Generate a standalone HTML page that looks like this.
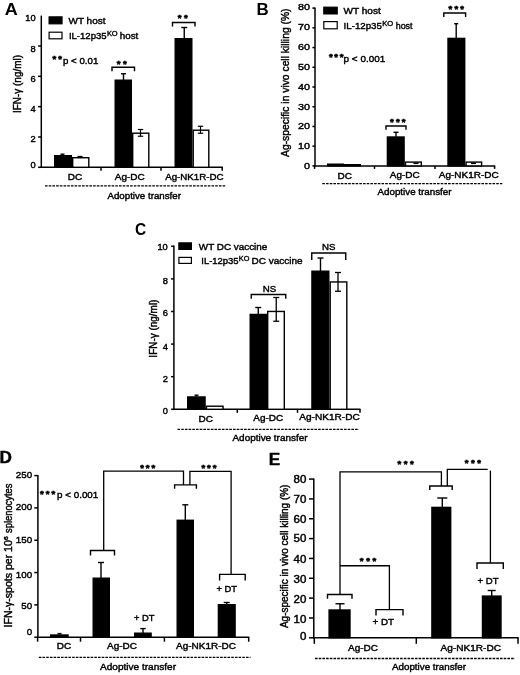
<!DOCTYPE html>
<html><head><meta charset="utf-8"><title>Figure</title>
<style>
html,body{margin:0;padding:0;background:#fff;}
svg{display:block;font-family:"Liberation Sans", sans-serif;filter:blur(0.4px);}
</style></head><body>
<svg width="520" height="675" viewBox="0 0 520 675">
<rect x="0" y="0" width="520" height="675" fill="#fff"/>
<text x="4.70" y="15.20" font-size="17.3" text-anchor="start" font-weight="bold" fill="#000" stroke="#000" stroke-width="0" textLength="12.99" lengthAdjust="spacingAndGlyphs">A</text>
<line x1="41.30" y1="15.60" x2="41.30" y2="168.00" stroke="#000" stroke-width="1.5" />
<line x1="38.10" y1="167.30" x2="41.30" y2="167.30" stroke="#000" stroke-width="1.5" />
<text x="35.60" y="168.10" font-size="9.3" text-anchor="end" font-weight="normal" fill="#000" stroke="#000" stroke-width="0.42" textLength="5.17" lengthAdjust="spacingAndGlyphs">0</text>
<line x1="38.10" y1="136.98" x2="41.30" y2="136.98" stroke="#000" stroke-width="1.5" />
<text x="35.60" y="142.40" font-size="9.3" text-anchor="end" font-weight="normal" fill="#000" stroke="#000" stroke-width="0.42" textLength="5.17" lengthAdjust="spacingAndGlyphs">2</text>
<line x1="38.10" y1="106.66" x2="41.30" y2="106.66" stroke="#000" stroke-width="1.5" />
<text x="35.60" y="112.30" font-size="9.3" text-anchor="end" font-weight="normal" fill="#000" stroke="#000" stroke-width="0.42" textLength="5.17" lengthAdjust="spacingAndGlyphs">4</text>
<line x1="38.10" y1="76.34" x2="41.30" y2="76.34" stroke="#000" stroke-width="1.5" />
<text x="35.60" y="82.00" font-size="9.3" text-anchor="end" font-weight="normal" fill="#000" stroke="#000" stroke-width="0.42" textLength="5.17" lengthAdjust="spacingAndGlyphs">6</text>
<line x1="38.10" y1="46.02" x2="41.30" y2="46.02" stroke="#000" stroke-width="1.5" />
<text x="35.60" y="51.90" font-size="9.3" text-anchor="end" font-weight="normal" fill="#000" stroke="#000" stroke-width="0.42" textLength="5.17" lengthAdjust="spacingAndGlyphs">8</text>
<text x="35.60" y="21.00" font-size="9.3" text-anchor="end" font-weight="normal" fill="#000" stroke="#000" stroke-width="0.42" textLength="10.34" lengthAdjust="spacingAndGlyphs">10</text>
<line x1="40.70" y1="167.30" x2="222.80" y2="167.30" stroke="#000" stroke-width="1.5" />
<line x1="101.00" y1="167.30" x2="101.00" y2="170.80" stroke="#000" stroke-width="1.5" />
<line x1="161.00" y1="167.30" x2="161.00" y2="170.80" stroke="#000" stroke-width="1.5" />
<line x1="222.20" y1="167.30" x2="222.20" y2="170.80" stroke="#000" stroke-width="1.5" />
<rect x="54.70" y="155.70" width="16.60" height="11.60" fill="#000" stroke="#000" stroke-width="1.4"/>
<rect x="72.70" y="157.70" width="16.10" height="9.60" fill="#fff" stroke="#000" stroke-width="1.4"/>
<rect x="115.20" y="80.20" width="16.10" height="87.10" fill="#000" stroke="#000" stroke-width="1.4"/>
<rect x="132.70" y="133.20" width="16.10" height="34.10" fill="#fff" stroke="#000" stroke-width="1.4"/>
<rect x="175.20" y="38.70" width="16.60" height="128.60" fill="#000" stroke="#000" stroke-width="1.4"/>
<rect x="193.20" y="130.20" width="15.60" height="37.10" fill="#fff" stroke="#000" stroke-width="1.4"/>
<line x1="62.50" y1="154.20" x2="62.50" y2="155.00" stroke="#000" stroke-width="1.4" />
<line x1="60.50" y1="154.20" x2="64.50" y2="154.20" stroke="#000" stroke-width="1.4" />
<line x1="80.00" y1="156.50" x2="80.00" y2="157.50" stroke="#000" stroke-width="1.3" />
<line x1="77.50" y1="156.50" x2="82.50" y2="156.50" stroke="#000" stroke-width="1.3" />
<line x1="77.50" y1="157.50" x2="82.50" y2="157.50" stroke="#000" stroke-width="1.3" />
<line x1="123.50" y1="73.75" x2="123.50" y2="80.00" stroke="#000" stroke-width="1.4" />
<line x1="121.00" y1="73.75" x2="126.00" y2="73.75" stroke="#000" stroke-width="1.4" />
<line x1="184.25" y1="27.50" x2="184.25" y2="38.00" stroke="#000" stroke-width="1.4" />
<line x1="181.25" y1="27.50" x2="187.25" y2="27.50" stroke="#000" stroke-width="1.4" />
<line x1="140.50" y1="129.50" x2="140.50" y2="136.25" stroke="#000" stroke-width="1.2" />
<line x1="137.80" y1="129.50" x2="143.20" y2="129.50" stroke="#000" stroke-width="1.2" />
<line x1="137.80" y1="136.25" x2="143.20" y2="136.25" stroke="#000" stroke-width="1.2" />
<line x1="200.50" y1="126.25" x2="200.50" y2="133.25" stroke="#000" stroke-width="1.2" />
<line x1="197.80" y1="126.25" x2="203.20" y2="126.25" stroke="#000" stroke-width="1.2" />
<line x1="197.80" y1="133.25" x2="203.20" y2="133.25" stroke="#000" stroke-width="1.2" />
<path d="M112.00 71.20 V67.30 H134.50 V71.20" fill="none" stroke="#000" stroke-width="1.4"/>
<text x="116.65 123.05" y="66.88" font-size="9.5" font-weight="bold" fill="#000" stroke="#000" stroke-width="0.6">**</text>
<path d="M172.50 26.50 V22.50 H195.00 V26.50" fill="none" stroke="#000" stroke-width="1.4"/>
<text x="177.65 184.05" y="21.48" font-size="9.5" font-weight="bold" fill="#000" stroke="#000" stroke-width="0.6">**</text>
<rect x="49.00" y="16.80" width="13.10" height="7.10" fill="#000" stroke="#000" stroke-width="1.0"/>
<text x="68.50" y="24.10" font-size="9.6" text-anchor="start" font-weight="normal" fill="#000" stroke="#000" stroke-width="0.42" textLength="37.00" lengthAdjust="spacingAndGlyphs">WT host</text>
<rect x="49.10" y="32.20" width="12.90" height="6.60" fill="#fff" stroke="#000" stroke-width="1.2"/>
<text x="68.90" y="39.30" font-size="9.6" text-anchor="start" font-weight="normal" fill="#000" stroke="#000" stroke-width="0.42" textLength="37.70" lengthAdjust="spacingAndGlyphs">IL-12p35</text>
<text x="106.90" y="36.30" font-size="6.7" text-anchor="start" font-weight="normal" fill="#000" stroke="#000" stroke-width="0.35" textLength="10.80" lengthAdjust="spacingAndGlyphs">KO</text>
<text x="119.80" y="39.30" font-size="9.6" text-anchor="start" font-weight="normal" fill="#000" stroke="#000" stroke-width="0.42" textLength="18.50" lengthAdjust="spacingAndGlyphs">host</text>
<text x="52.55 58.25" y="62.28" font-size="9.5" font-weight="bold" fill="#000" stroke="#000" stroke-width="0.6">**</text>
<text x="63.00" y="63.50" font-size="9.6" text-anchor="start" font-weight="normal" fill="#000" stroke="#000" stroke-width="0.42" textLength="35.30" lengthAdjust="spacingAndGlyphs">p &lt; 0.01</text>
<text x="21.10" y="84.00" font-size="10.0" text-anchor="middle" font-weight="normal" fill="#000" stroke="#000" stroke-width="0.42" textLength="58.05" lengthAdjust="spacingAndGlyphs" transform="rotate(-90 21.10 84.00)">IFN-γ (ng/ml)</text>
<text x="75.00" y="180.30" font-size="9.6" text-anchor="middle" font-weight="normal" fill="#000" stroke="#000" stroke-width="0.42" textLength="14.42" lengthAdjust="spacingAndGlyphs">DC</text>
<text x="129.80" y="180.30" font-size="9.6" text-anchor="middle" font-weight="normal" fill="#000" stroke="#000" stroke-width="0.42" textLength="29.96" lengthAdjust="spacingAndGlyphs">Ag-DC</text>
<text x="194.40" y="180.30" font-size="9.6" text-anchor="middle" font-weight="normal" fill="#000" stroke="#000" stroke-width="0.42" textLength="58.50" lengthAdjust="spacingAndGlyphs">Ag-NK1R-DC</text>
<line x1="45.00" y1="185.80" x2="226.00" y2="185.80" stroke="#000" stroke-width="1.3" stroke-dasharray="2.6 1.1"/>
<text x="144.20" y="198.50" font-size="9.6" text-anchor="middle" font-weight="normal" fill="#000" stroke="#000" stroke-width="0.42" textLength="73.50" lengthAdjust="spacingAndGlyphs">Adoptive transfer</text>
<text x="256.50" y="15.10" font-size="16.3" text-anchor="start" font-weight="bold" fill="#000" stroke="#000" stroke-width="0" textLength="12.24" lengthAdjust="spacingAndGlyphs">B</text>
<line x1="315.00" y1="7.40" x2="315.00" y2="166.60" stroke="#000" stroke-width="1.5" />
<line x1="312.40" y1="165.90" x2="315.00" y2="165.90" stroke="#000" stroke-width="1.5" />
<text x="310.00" y="168.50" font-size="9.3" text-anchor="end" font-weight="normal" fill="#000" stroke="#000" stroke-width="0.42" textLength="6.00" lengthAdjust="spacingAndGlyphs">0</text>
<line x1="312.40" y1="146.18" x2="315.00" y2="146.18" stroke="#000" stroke-width="1.5" />
<text x="310.00" y="149.20" font-size="9.3" text-anchor="end" font-weight="normal" fill="#000" stroke="#000" stroke-width="0.42" textLength="12.00" lengthAdjust="spacingAndGlyphs">10</text>
<line x1="312.40" y1="126.45" x2="315.00" y2="126.45" stroke="#000" stroke-width="1.5" />
<text x="310.00" y="129.30" font-size="9.3" text-anchor="end" font-weight="normal" fill="#000" stroke="#000" stroke-width="0.42" textLength="12.00" lengthAdjust="spacingAndGlyphs">20</text>
<line x1="312.40" y1="106.73" x2="315.00" y2="106.73" stroke="#000" stroke-width="1.5" />
<text x="310.00" y="109.60" font-size="9.3" text-anchor="end" font-weight="normal" fill="#000" stroke="#000" stroke-width="0.42" textLength="12.00" lengthAdjust="spacingAndGlyphs">30</text>
<line x1="312.40" y1="87.00" x2="315.00" y2="87.00" stroke="#000" stroke-width="1.5" />
<text x="310.00" y="89.60" font-size="9.3" text-anchor="end" font-weight="normal" fill="#000" stroke="#000" stroke-width="0.42" textLength="12.00" lengthAdjust="spacingAndGlyphs">40</text>
<line x1="312.40" y1="67.28" x2="315.00" y2="67.28" stroke="#000" stroke-width="1.5" />
<text x="310.00" y="69.80" font-size="9.3" text-anchor="end" font-weight="normal" fill="#000" stroke="#000" stroke-width="0.42" textLength="12.00" lengthAdjust="spacingAndGlyphs">50</text>
<line x1="312.40" y1="47.55" x2="315.00" y2="47.55" stroke="#000" stroke-width="1.5" />
<text x="310.00" y="49.60" font-size="9.3" text-anchor="end" font-weight="normal" fill="#000" stroke="#000" stroke-width="0.42" textLength="12.00" lengthAdjust="spacingAndGlyphs">60</text>
<line x1="312.40" y1="27.83" x2="315.00" y2="27.83" stroke="#000" stroke-width="1.5" />
<text x="310.00" y="30.40" font-size="9.3" text-anchor="end" font-weight="normal" fill="#000" stroke="#000" stroke-width="0.42" textLength="12.00" lengthAdjust="spacingAndGlyphs">70</text>
<line x1="312.40" y1="8.10" x2="315.00" y2="8.10" stroke="#000" stroke-width="1.5" />
<text x="310.00" y="10.20" font-size="9.3" text-anchor="end" font-weight="normal" fill="#000" stroke="#000" stroke-width="0.42" textLength="12.00" lengthAdjust="spacingAndGlyphs">80</text>
<line x1="314.40" y1="165.90" x2="495.20" y2="165.90" stroke="#000" stroke-width="1.5" />
<line x1="314.60" y1="165.90" x2="314.60" y2="168.90" stroke="#000" stroke-width="1.5" />
<line x1="374.50" y1="165.90" x2="374.50" y2="168.90" stroke="#000" stroke-width="1.5" />
<line x1="435.00" y1="165.90" x2="435.00" y2="168.90" stroke="#000" stroke-width="1.5" />
<line x1="494.60" y1="165.90" x2="494.60" y2="168.90" stroke="#000" stroke-width="1.5" />
<rect x="327.70" y="164.20" width="15.60" height="1.70" fill="#000" stroke="#000" stroke-width="1.4"/>
<rect x="344.70" y="164.70" width="15.60" height="1.20" fill="#fff" stroke="#000" stroke-width="1.4"/>
<rect x="387.40" y="137.00" width="16.70" height="28.90" fill="#000" stroke="#000" stroke-width="1.4"/>
<rect x="405.50" y="162.10" width="15.80" height="3.80" fill="#fff" stroke="#000" stroke-width="1.4"/>
<rect x="448.00" y="38.40" width="16.70" height="127.50" fill="#000" stroke="#000" stroke-width="1.4"/>
<rect x="466.10" y="162.10" width="15.50" height="3.80" fill="#fff" stroke="#000" stroke-width="1.4"/>
<line x1="396.00" y1="132.30" x2="396.00" y2="137.00" stroke="#000" stroke-width="1.4" />
<line x1="393.50" y1="132.30" x2="398.50" y2="132.30" stroke="#000" stroke-width="1.4" />
<line x1="456.20" y1="23.70" x2="456.20" y2="38.00" stroke="#000" stroke-width="1.4" />
<line x1="454.20" y1="23.70" x2="458.20" y2="23.70" stroke="#000" stroke-width="1.4" />
<line x1="413.50" y1="163.30" x2="418.50" y2="163.30" stroke="#000" stroke-width="1.6" />
<line x1="471.00" y1="163.30" x2="476.00" y2="163.30" stroke="#000" stroke-width="1.6" />
<path d="M386.00 129.80 V126.00 H406.00 V129.80" fill="none" stroke="#000" stroke-width="1.4"/>
<text x="390.05 395.95 401.85" y="124.68" font-size="9.5" font-weight="bold" fill="#000" stroke="#000" stroke-width="0.6">***</text>
<path d="M443.80 17.00 V13.00 H465.60 V17.00" fill="none" stroke="#000" stroke-width="1.4"/>
<text x="448.55 454.45 460.35" y="11.58" font-size="9.5" font-weight="bold" fill="#000" stroke="#000" stroke-width="0.6">***</text>
<rect x="323.70" y="7.10" width="13.60" height="6.90" fill="#000" stroke="#000" stroke-width="1.0"/>
<text x="343.50" y="14.40" font-size="9.6" text-anchor="start" font-weight="normal" fill="#000" stroke="#000" stroke-width="0.42" textLength="37.30" lengthAdjust="spacingAndGlyphs">WT host</text>
<rect x="323.80" y="21.60" width="13.40" height="7.20" fill="#fff" stroke="#000" stroke-width="1.2"/>
<text x="343.60" y="29.40" font-size="9.6" text-anchor="start" font-weight="normal" fill="#000" stroke="#000" stroke-width="0.42" textLength="38.30" lengthAdjust="spacingAndGlyphs">IL-12p35</text>
<text x="382.20" y="26.40" font-size="6.7" text-anchor="start" font-weight="normal" fill="#000" stroke="#000" stroke-width="0.35" textLength="11.00" lengthAdjust="spacingAndGlyphs">KO</text>
<text x="395.70" y="29.40" font-size="9.6" text-anchor="start" font-weight="normal" fill="#000" stroke="#000" stroke-width="0.42" textLength="16.80" lengthAdjust="spacingAndGlyphs">host</text>
<text x="328.95 334.35 339.75" y="60.48" font-size="9.5" font-weight="bold" fill="#000" stroke="#000" stroke-width="0.6">***</text>
<text x="343.60" y="61.60" font-size="9.6" text-anchor="start" font-weight="normal" fill="#000" stroke="#000" stroke-width="0.42" textLength="41.60" lengthAdjust="spacingAndGlyphs">p &lt; 0.001</text>
<text x="288.90" y="82.70" font-size="10.0" text-anchor="middle" font-weight="normal" fill="#000" stroke="#000" stroke-width="0.42" textLength="148.50" lengthAdjust="spacingAndGlyphs" transform="rotate(-90 288.90 82.70)">Ag-specific  in vivo cell killing (%)</text>
<text x="344.80" y="178.60" font-size="9.6" text-anchor="middle" font-weight="normal" fill="#000" stroke="#000" stroke-width="0.42" textLength="14.42" lengthAdjust="spacingAndGlyphs">DC</text>
<text x="404.80" y="178.30" font-size="9.6" text-anchor="middle" font-weight="normal" fill="#000" stroke="#000" stroke-width="0.42" textLength="29.96" lengthAdjust="spacingAndGlyphs">Ag-DC</text>
<text x="468.80" y="178.30" font-size="9.6" text-anchor="middle" font-weight="normal" fill="#000" stroke="#000" stroke-width="0.42" textLength="60.00" lengthAdjust="spacingAndGlyphs">Ag-NK1R-DC</text>
<line x1="322.30" y1="183.60" x2="502.30" y2="183.60" stroke="#000" stroke-width="1.3" stroke-dasharray="2.6 1.1"/>
<text x="414.50" y="195.20" font-size="9.6" text-anchor="middle" font-weight="normal" fill="#000" stroke="#000" stroke-width="0.42" textLength="74.00" lengthAdjust="spacingAndGlyphs">Adoptive transfer</text>
<text x="135.00" y="235.20" font-size="16.3" text-anchor="start" font-weight="bold" fill="#000" stroke="#000" stroke-width="0" textLength="11.18" lengthAdjust="spacingAndGlyphs">C</text>
<line x1="173.90" y1="245.60" x2="173.90" y2="410.00" stroke="#000" stroke-width="1.5" />
<line x1="171.10" y1="409.30" x2="173.90" y2="409.30" stroke="#000" stroke-width="1.5" />
<text x="167.80" y="413.70" font-size="9.3" text-anchor="end" font-weight="normal" fill="#000" stroke="#000" stroke-width="0.42" textLength="5.17" lengthAdjust="spacingAndGlyphs">0</text>
<line x1="171.10" y1="376.70" x2="173.90" y2="376.70" stroke="#000" stroke-width="1.5" />
<text x="167.80" y="382.00" font-size="9.3" text-anchor="end" font-weight="normal" fill="#000" stroke="#000" stroke-width="0.42" textLength="5.17" lengthAdjust="spacingAndGlyphs">2</text>
<line x1="171.10" y1="344.10" x2="173.90" y2="344.10" stroke="#000" stroke-width="1.5" />
<text x="167.80" y="349.60" font-size="9.3" text-anchor="end" font-weight="normal" fill="#000" stroke="#000" stroke-width="0.42" textLength="5.17" lengthAdjust="spacingAndGlyphs">4</text>
<line x1="171.10" y1="311.50" x2="173.90" y2="311.50" stroke="#000" stroke-width="1.5" />
<text x="167.80" y="316.20" font-size="9.3" text-anchor="end" font-weight="normal" fill="#000" stroke="#000" stroke-width="0.42" textLength="5.17" lengthAdjust="spacingAndGlyphs">6</text>
<line x1="171.10" y1="278.90" x2="173.90" y2="278.90" stroke="#000" stroke-width="1.5" />
<text x="167.80" y="283.60" font-size="9.3" text-anchor="end" font-weight="normal" fill="#000" stroke="#000" stroke-width="0.42" textLength="5.17" lengthAdjust="spacingAndGlyphs">8</text>
<line x1="171.10" y1="246.30" x2="173.90" y2="246.30" stroke="#000" stroke-width="1.5" />
<text x="167.80" y="250.30" font-size="9.3" text-anchor="end" font-weight="normal" fill="#000" stroke="#000" stroke-width="0.42" textLength="10.34" lengthAdjust="spacingAndGlyphs">10</text>
<line x1="173.30" y1="409.30" x2="360.50" y2="409.30" stroke="#000" stroke-width="1.5" />
<line x1="237.30" y1="409.30" x2="237.30" y2="412.80" stroke="#000" stroke-width="1.5" />
<line x1="297.50" y1="409.30" x2="297.50" y2="412.80" stroke="#000" stroke-width="1.5" />
<line x1="360.00" y1="409.30" x2="360.00" y2="412.80" stroke="#000" stroke-width="1.5" />
<rect x="187.70" y="396.95" width="17.35" height="12.35" fill="#000" stroke="#000" stroke-width="1.4"/>
<rect x="206.45" y="406.20" width="16.60" height="3.10" fill="#fff" stroke="#000" stroke-width="1.4"/>
<rect x="250.20" y="314.45" width="16.10" height="94.85" fill="#000" stroke="#000" stroke-width="1.4"/>
<rect x="267.70" y="311.45" width="16.60" height="97.85" fill="#fff" stroke="#000" stroke-width="1.4"/>
<rect x="311.95" y="271.20" width="16.85" height="138.10" fill="#000" stroke="#000" stroke-width="1.4"/>
<rect x="330.20" y="281.95" width="16.60" height="127.35" fill="#fff" stroke="#000" stroke-width="1.4"/>
<line x1="196.50" y1="395.20" x2="196.50" y2="396.50" stroke="#000" stroke-width="1.4" />
<line x1="194.50" y1="395.20" x2="198.50" y2="395.20" stroke="#000" stroke-width="1.4" />
<line x1="258.25" y1="307.50" x2="258.25" y2="314.00" stroke="#000" stroke-width="1.4" />
<line x1="255.25" y1="307.50" x2="261.25" y2="307.50" stroke="#000" stroke-width="1.4" />
<line x1="276.25" y1="297.50" x2="276.25" y2="321.25" stroke="#000" stroke-width="1.3" />
<line x1="273.25" y1="297.50" x2="279.25" y2="297.50" stroke="#000" stroke-width="1.3" />
<line x1="273.25" y1="321.25" x2="279.25" y2="321.25" stroke="#000" stroke-width="1.3" />
<line x1="320.50" y1="258.00" x2="320.50" y2="271.00" stroke="#000" stroke-width="1.4" />
<line x1="317.50" y1="258.00" x2="323.50" y2="258.00" stroke="#000" stroke-width="1.4" />
<line x1="338.00" y1="272.50" x2="338.00" y2="291.25" stroke="#000" stroke-width="1.3" />
<line x1="335.00" y1="272.50" x2="341.00" y2="272.50" stroke="#000" stroke-width="1.3" />
<line x1="335.00" y1="291.25" x2="341.00" y2="291.25" stroke="#000" stroke-width="1.3" />
<path d="M251.25 298.75 V294.50 H285.75 V298.75" fill="none" stroke="#000" stroke-width="1.4"/>
<text x="269.50" y="291.50" font-size="9.3" text-anchor="middle" font-weight="normal" fill="#000" stroke="#000" stroke-width="0.42" textLength="13.44" lengthAdjust="spacingAndGlyphs">NS</text>
<path d="M311.75 260.00 V253.00 H345.75 V260.00" fill="none" stroke="#000" stroke-width="1.4"/>
<text x="328.75" y="249.70" font-size="9.3" text-anchor="middle" font-weight="normal" fill="#000" stroke="#000" stroke-width="0.42" textLength="13.44" lengthAdjust="spacingAndGlyphs">NS</text>
<rect x="178.80" y="242.80" width="12.70" height="6.70" fill="#000" stroke="#000" stroke-width="1.0"/>
<text x="198.80" y="249.80" font-size="9.6" text-anchor="start" font-weight="normal" fill="#000" stroke="#000" stroke-width="0.42" textLength="68.50" lengthAdjust="spacingAndGlyphs">WT DC vaccine</text>
<rect x="178.90" y="257.40" width="12.50" height="6.00" fill="#fff" stroke="#000" stroke-width="1.2"/>
<text x="201.30" y="264.00" font-size="9.6" text-anchor="start" font-weight="normal" fill="#000" stroke="#000" stroke-width="0.42" textLength="37.20" lengthAdjust="spacingAndGlyphs">IL-12p35</text>
<text x="238.80" y="261.00" font-size="6.7" text-anchor="start" font-weight="normal" fill="#000" stroke="#000" stroke-width="0.35" textLength="10.60" lengthAdjust="spacingAndGlyphs">KO</text>
<text x="251.50" y="264.00" font-size="9.6" text-anchor="start" font-weight="normal" fill="#000" stroke="#000" stroke-width="0.42" textLength="51.00" lengthAdjust="spacingAndGlyphs">DC vaccine</text>
<text x="157.40" y="328.60" font-size="10.0" text-anchor="middle" font-weight="normal" fill="#000" stroke="#000" stroke-width="0.42" textLength="58.05" lengthAdjust="spacingAndGlyphs" transform="rotate(-90 157.40 328.60)">IFN-γ (ng/ml)</text>
<text x="205.80" y="422.10" font-size="9.6" text-anchor="middle" font-weight="normal" fill="#000" stroke="#000" stroke-width="0.42" textLength="14.42" lengthAdjust="spacingAndGlyphs">DC</text>
<text x="268.20" y="420.60" font-size="9.6" text-anchor="middle" font-weight="normal" fill="#000" stroke="#000" stroke-width="0.42" textLength="29.96" lengthAdjust="spacingAndGlyphs">Ag-DC</text>
<text x="329.50" y="420.20" font-size="9.6" text-anchor="middle" font-weight="normal" fill="#000" stroke="#000" stroke-width="0.42" textLength="60.50" lengthAdjust="spacingAndGlyphs">Ag-NK1R-DC</text>
<line x1="177.50" y1="429.30" x2="359.00" y2="429.30" stroke="#000" stroke-width="1.3" stroke-dasharray="2.6 1.1"/>
<text x="270.00" y="440.80" font-size="9.6" text-anchor="middle" font-weight="normal" fill="#000" stroke="#000" stroke-width="0.42" textLength="75.00" lengthAdjust="spacingAndGlyphs">Adoptive transfer</text>
<text x="-0.50" y="462.80" font-size="16.5" text-anchor="start" font-weight="bold" fill="#000" stroke="#000" stroke-width="0.42" textLength="12.39" lengthAdjust="spacingAndGlyphs">D</text>
<line x1="37.90" y1="474.90" x2="37.90" y2="637.90" stroke="#000" stroke-width="1.5" />
<line x1="34.30" y1="637.20" x2="37.90" y2="637.20" stroke="#000" stroke-width="1.5" />
<text x="32.20" y="634.57" font-size="9.5" text-anchor="end" font-weight="normal" fill="#000" stroke="#000" stroke-width="0.42" textLength="5.44" lengthAdjust="spacingAndGlyphs">0</text>
<line x1="34.30" y1="604.88" x2="37.90" y2="604.88" stroke="#000" stroke-width="1.5" />
<text x="32.20" y="609.07" font-size="9.5" text-anchor="end" font-weight="normal" fill="#000" stroke="#000" stroke-width="0.42" textLength="10.88" lengthAdjust="spacingAndGlyphs">50</text>
<line x1="34.30" y1="572.56" x2="37.90" y2="572.56" stroke="#000" stroke-width="1.5" />
<text x="32.20" y="577.87" font-size="9.5" text-anchor="end" font-weight="normal" fill="#000" stroke="#000" stroke-width="0.42" textLength="16.33" lengthAdjust="spacingAndGlyphs">100</text>
<line x1="34.30" y1="540.24" x2="37.90" y2="540.24" stroke="#000" stroke-width="1.5" />
<text x="32.20" y="543.37" font-size="9.5" text-anchor="end" font-weight="normal" fill="#000" stroke="#000" stroke-width="0.42" textLength="16.33" lengthAdjust="spacingAndGlyphs">150</text>
<line x1="34.30" y1="507.92" x2="37.90" y2="507.92" stroke="#000" stroke-width="1.5" />
<text x="32.20" y="510.27" font-size="9.5" text-anchor="end" font-weight="normal" fill="#000" stroke="#000" stroke-width="0.42" textLength="16.33" lengthAdjust="spacingAndGlyphs">200</text>
<line x1="34.30" y1="475.60" x2="37.90" y2="475.60" stroke="#000" stroke-width="1.5" />
<text x="32.20" y="477.57" font-size="9.5" text-anchor="end" font-weight="normal" fill="#000" stroke="#000" stroke-width="0.42" textLength="16.33" lengthAdjust="spacingAndGlyphs">250</text>
<line x1="37.30" y1="637.20" x2="249.30" y2="637.20" stroke="#000" stroke-width="1.5" />
<line x1="37.60" y1="637.20" x2="37.60" y2="641.70" stroke="#000" stroke-width="1.5" />
<line x1="80.50" y1="637.20" x2="80.50" y2="641.70" stroke="#000" stroke-width="1.5" />
<line x1="164.40" y1="637.20" x2="164.40" y2="641.70" stroke="#000" stroke-width="1.5" />
<line x1="248.70" y1="637.20" x2="248.70" y2="641.70" stroke="#000" stroke-width="1.5" />
<rect x="50.70" y="635.00" width="17.35" height="2.20" fill="#000" stroke="#000" stroke-width="1.4"/>
<rect x="93.20" y="578.20" width="16.10" height="59.00" fill="#000" stroke="#000" stroke-width="1.4"/>
<rect x="134.70" y="633.20" width="16.40" height="4.00" fill="#000" stroke="#000" stroke-width="1.4"/>
<rect x="177.20" y="520.30" width="16.10" height="116.90" fill="#000" stroke="#000" stroke-width="1.4"/>
<rect x="218.40" y="604.70" width="16.70" height="32.50" fill="#000" stroke="#000" stroke-width="1.4"/>
<line x1="59.50" y1="633.60" x2="59.50" y2="634.50" stroke="#000" stroke-width="1.4" />
<line x1="57.50" y1="633.60" x2="61.50" y2="633.60" stroke="#000" stroke-width="1.4" />
<line x1="101.00" y1="562.50" x2="101.00" y2="578.00" stroke="#000" stroke-width="1.4" />
<line x1="98.00" y1="562.50" x2="104.00" y2="562.50" stroke="#000" stroke-width="1.4" />
<line x1="143.00" y1="628.60" x2="143.00" y2="633.00" stroke="#000" stroke-width="1.4" />
<line x1="140.30" y1="628.60" x2="145.70" y2="628.60" stroke="#000" stroke-width="1.4" />
<line x1="185.30" y1="504.80" x2="185.30" y2="520.00" stroke="#000" stroke-width="1.4" />
<line x1="182.30" y1="504.80" x2="188.30" y2="504.80" stroke="#000" stroke-width="1.4" />
<line x1="226.70" y1="602.50" x2="226.70" y2="604.50" stroke="#000" stroke-width="1.4" />
<line x1="223.70" y1="602.50" x2="229.70" y2="602.50" stroke="#000" stroke-width="1.4" />
<path d="M90.50 555.50 V550.50 H114.50 V555.50" fill="none" stroke="#000" stroke-width="1.4"/>
<path d="M103.7 550.5 V471.1 H183.5 V484.9" fill="none" stroke="#000" stroke-width="1.3"/>
<path d="M174.60 488.70 V484.90 H196.40 V488.70" fill="none" stroke="#000" stroke-width="1.4"/>
<path d="M189.9 484.9 V471.3 H231.1 V574.4" fill="none" stroke="#000" stroke-width="1.3"/>
<path d="M219.60 580.60 V574.40 H245.20 V580.60" fill="none" stroke="#000" stroke-width="1.4"/>
<text x="140.25 145.85 151.45" y="471.38" font-size="9.5" font-weight="bold" fill="#000" stroke="#000" stroke-width="0.6">***</text>
<text x="201.45 207.05 212.65" y="471.38" font-size="9.5" font-weight="bold" fill="#000" stroke="#000" stroke-width="0.6">***</text>
<text x="39.90 45.65 51.40" y="496.98" font-size="9.5" font-weight="bold" fill="#000" stroke="#000" stroke-width="0.6">***</text>
<text x="57.00" y="498.30" font-size="9.6" text-anchor="start" font-weight="normal" fill="#000" stroke="#000" stroke-width="0.42" textLength="41.30" lengthAdjust="spacingAndGlyphs">p &lt; 0.001</text>
<text x="144.30" y="621.20" font-size="9.6" text-anchor="middle" font-weight="normal" fill="#000" stroke="#000" stroke-width="0.42" textLength="20.50" lengthAdjust="spacingAndGlyphs">+ DT</text>
<text x="226.70" y="592.20" font-size="9.6" text-anchor="middle" font-weight="normal" fill="#000" stroke="#000" stroke-width="0.42" textLength="20.50" lengthAdjust="spacingAndGlyphs">+ DT</text>
<g transform="rotate(-90 12.2 555.5)">
<text x="-59.70" y="555.50" font-size="10" text-anchor="start" font-weight="normal" fill="#000" stroke="#000" stroke-width="0.42" textLength="87.20" lengthAdjust="spacingAndGlyphs">IFN-γ-spots per 10</text>
<text x="27.70" y="551.30" font-size="6" text-anchor="start" font-weight="normal" fill="#000" stroke="#000" stroke-width="0.42" textLength="3.70" lengthAdjust="spacingAndGlyphs">6</text>
<text x="34.80" y="555.50" font-size="10" text-anchor="start" font-weight="normal" fill="#000" stroke="#000" stroke-width="0.42" textLength="49.30" lengthAdjust="spacingAndGlyphs">splenocytes</text>
</g>
<text x="64.00" y="649.30" font-size="9.6" text-anchor="middle" font-weight="normal" fill="#000" stroke="#000" stroke-width="0.42" textLength="14.42" lengthAdjust="spacingAndGlyphs">DC</text>
<text x="122.00" y="649.30" font-size="9.6" text-anchor="middle" font-weight="normal" fill="#000" stroke="#000" stroke-width="0.42" textLength="29.96" lengthAdjust="spacingAndGlyphs">Ag-DC</text>
<text x="206.00" y="649.10" font-size="9.6" text-anchor="middle" font-weight="normal" fill="#000" stroke="#000" stroke-width="0.42" textLength="59.80" lengthAdjust="spacingAndGlyphs">Ag-NK1R-DC</text>
<line x1="38.80" y1="657.40" x2="250.60" y2="657.40" stroke="#000" stroke-width="1.3" stroke-dasharray="2.6 1.1"/>
<text x="138.00" y="669.60" font-size="9.6" text-anchor="middle" font-weight="normal" fill="#000" stroke="#000" stroke-width="0.42" textLength="76.00" lengthAdjust="spacingAndGlyphs">Adoptive transfer</text>
<text x="268.70" y="465.00" font-size="16.5" text-anchor="start" font-weight="bold" fill="#000" stroke="#000" stroke-width="0.42" textLength="11.45" lengthAdjust="spacingAndGlyphs">E</text>
<line x1="313.80" y1="478.38" x2="313.80" y2="638.50" stroke="#000" stroke-width="1.5" />
<line x1="309.00" y1="637.80" x2="313.80" y2="637.80" stroke="#000" stroke-width="1.5" />
<text x="306.30" y="639.65" font-size="10" text-anchor="end" font-weight="normal" fill="#000" stroke="#000" stroke-width="0.42" textLength="6.40" lengthAdjust="spacingAndGlyphs">0</text>
<line x1="309.00" y1="617.96" x2="313.80" y2="617.96" stroke="#000" stroke-width="1.5" />
<text x="306.30" y="622.65" font-size="10" text-anchor="end" font-weight="normal" fill="#000" stroke="#000" stroke-width="0.42" textLength="12.79" lengthAdjust="spacingAndGlyphs">10</text>
<line x1="309.00" y1="598.12" x2="313.80" y2="598.12" stroke="#000" stroke-width="1.5" />
<text x="306.30" y="602.95" font-size="10" text-anchor="end" font-weight="normal" fill="#000" stroke="#000" stroke-width="0.42" textLength="12.79" lengthAdjust="spacingAndGlyphs">20</text>
<line x1="309.00" y1="578.28" x2="313.80" y2="578.28" stroke="#000" stroke-width="1.5" />
<text x="306.30" y="583.15" font-size="10" text-anchor="end" font-weight="normal" fill="#000" stroke="#000" stroke-width="0.42" textLength="12.79" lengthAdjust="spacingAndGlyphs">30</text>
<line x1="309.00" y1="558.44" x2="313.80" y2="558.44" stroke="#000" stroke-width="1.5" />
<text x="306.30" y="562.75" font-size="10" text-anchor="end" font-weight="normal" fill="#000" stroke="#000" stroke-width="0.42" textLength="12.79" lengthAdjust="spacingAndGlyphs">40</text>
<line x1="309.00" y1="538.60" x2="313.80" y2="538.60" stroke="#000" stroke-width="1.5" />
<text x="306.30" y="542.45" font-size="10" text-anchor="end" font-weight="normal" fill="#000" stroke="#000" stroke-width="0.42" textLength="12.79" lengthAdjust="spacingAndGlyphs">50</text>
<line x1="309.00" y1="518.76" x2="313.80" y2="518.76" stroke="#000" stroke-width="1.5" />
<text x="306.30" y="522.75" font-size="10" text-anchor="end" font-weight="normal" fill="#000" stroke="#000" stroke-width="0.42" textLength="12.79" lengthAdjust="spacingAndGlyphs">60</text>
<line x1="309.00" y1="498.92" x2="313.80" y2="498.92" stroke="#000" stroke-width="1.5" />
<text x="306.30" y="503.05" font-size="10" text-anchor="end" font-weight="normal" fill="#000" stroke="#000" stroke-width="0.42" textLength="12.79" lengthAdjust="spacingAndGlyphs">70</text>
<line x1="309.00" y1="479.08" x2="313.80" y2="479.08" stroke="#000" stroke-width="1.5" />
<text x="306.30" y="483.35" font-size="10" text-anchor="end" font-weight="normal" fill="#000" stroke="#000" stroke-width="0.42" textLength="12.79" lengthAdjust="spacingAndGlyphs">80</text>
<line x1="313.20" y1="637.80" x2="518.60" y2="637.80" stroke="#000" stroke-width="1.5" />
<line x1="314.30" y1="637.80" x2="314.30" y2="643.80" stroke="#000" stroke-width="1.5" />
<line x1="416.30" y1="637.80" x2="416.30" y2="643.80" stroke="#000" stroke-width="1.5" />
<line x1="518.00" y1="637.80" x2="518.00" y2="643.80" stroke="#000" stroke-width="1.5" />
<rect x="329.10" y="610.00" width="20.90" height="27.80" fill="#000" stroke="#000" stroke-width="1.4"/>
<rect x="431.90" y="507.40" width="18.80" height="130.40" fill="#000" stroke="#000" stroke-width="1.4"/>
<rect x="482.50" y="596.10" width="18.50" height="41.70" fill="#000" stroke="#000" stroke-width="1.4"/>
<line x1="340.00" y1="603.75" x2="340.00" y2="610.00" stroke="#000" stroke-width="1.4" />
<line x1="335.50" y1="603.75" x2="344.50" y2="603.75" stroke="#000" stroke-width="1.4" />
<line x1="442.30" y1="498.00" x2="442.30" y2="507.00" stroke="#000" stroke-width="1.4" />
<line x1="437.30" y1="498.00" x2="447.30" y2="498.00" stroke="#000" stroke-width="1.4" />
<line x1="491.70" y1="590.50" x2="491.70" y2="596.00" stroke="#000" stroke-width="1.4" />
<line x1="487.70" y1="590.50" x2="495.70" y2="590.50" stroke="#000" stroke-width="1.4" />
<path d="M327.50 598.75 V594.50 H352.00 V598.75" fill="none" stroke="#000" stroke-width="1.4"/>
<path d="M340 594.5 V471.8 H441.4 V486" fill="none" stroke="#000" stroke-width="1.3"/>
<path d="M429.80 490.00 V486.00 H452.20 V490.00" fill="none" stroke="#000" stroke-width="1.4"/>
<path d="M447.3 486 V469.3 H487.7" fill="none" stroke="#000" stroke-width="1.3"/>
<path d="M490.4 470.6 V563" fill="none" stroke="#000" stroke-width="1.3"/>
<path d="M477.00 569.00 V563.00 H503.30 V569.00" fill="none" stroke="#000" stroke-width="1.4"/>
<path d="M340 565.75 H389.4 V609.6" fill="none" stroke="#000" stroke-width="1.3"/>
<path d="M376.00 615.50 V609.60 H403.00 V615.50" fill="none" stroke="#000" stroke-width="1.4"/>
<text x="397.45 403.75 410.05" y="467.28" font-size="9.5" font-weight="bold" fill="#000" stroke="#000" stroke-width="0.6">***</text>
<text x="464.65 470.95 477.25" y="466.08" font-size="9.5" font-weight="bold" fill="#000" stroke="#000" stroke-width="0.6">***</text>
<text x="359.85 366.15 372.45" y="563.68" font-size="9.5" font-weight="bold" fill="#000" stroke="#000" stroke-width="0.6">***</text>
<text x="372.50" y="625.30" font-size="9.6" text-anchor="start" font-weight="normal" fill="#000" stroke="#000" stroke-width="0.42" textLength="21.50" lengthAdjust="spacingAndGlyphs">+ DT</text>
<text x="477.50" y="584.20" font-size="9.6" text-anchor="start" font-weight="normal" fill="#000" stroke="#000" stroke-width="0.42" textLength="21.00" lengthAdjust="spacingAndGlyphs">+ DT</text>
<text x="288.40" y="556.30" font-size="10.0" text-anchor="middle" font-weight="normal" fill="#000" stroke="#000" stroke-width="0.42" textLength="143.50" lengthAdjust="spacingAndGlyphs" transform="rotate(-90 288.40 556.30)">Ag-specific in vivo cell killing (%)</text>
<text x="363.00" y="651.20" font-size="9.6" text-anchor="middle" font-weight="normal" fill="#000" stroke="#000" stroke-width="0.42" textLength="29.96" lengthAdjust="spacingAndGlyphs">Ag-DC</text>
<text x="470.80" y="651.20" font-size="9.6" text-anchor="middle" font-weight="normal" fill="#000" stroke="#000" stroke-width="0.42" textLength="60.40" lengthAdjust="spacingAndGlyphs">Ag-NK1R-DC</text>
<line x1="315.00" y1="658.50" x2="515.00" y2="658.50" stroke="#000" stroke-width="1.3" stroke-dasharray="2.6 1.1"/>
<text x="429.00" y="670.20" font-size="9.6" text-anchor="middle" font-weight="normal" fill="#000" stroke="#000" stroke-width="0.42" textLength="74.00" lengthAdjust="spacingAndGlyphs">Adoptive transfer</text>
</svg>
</body></html>
